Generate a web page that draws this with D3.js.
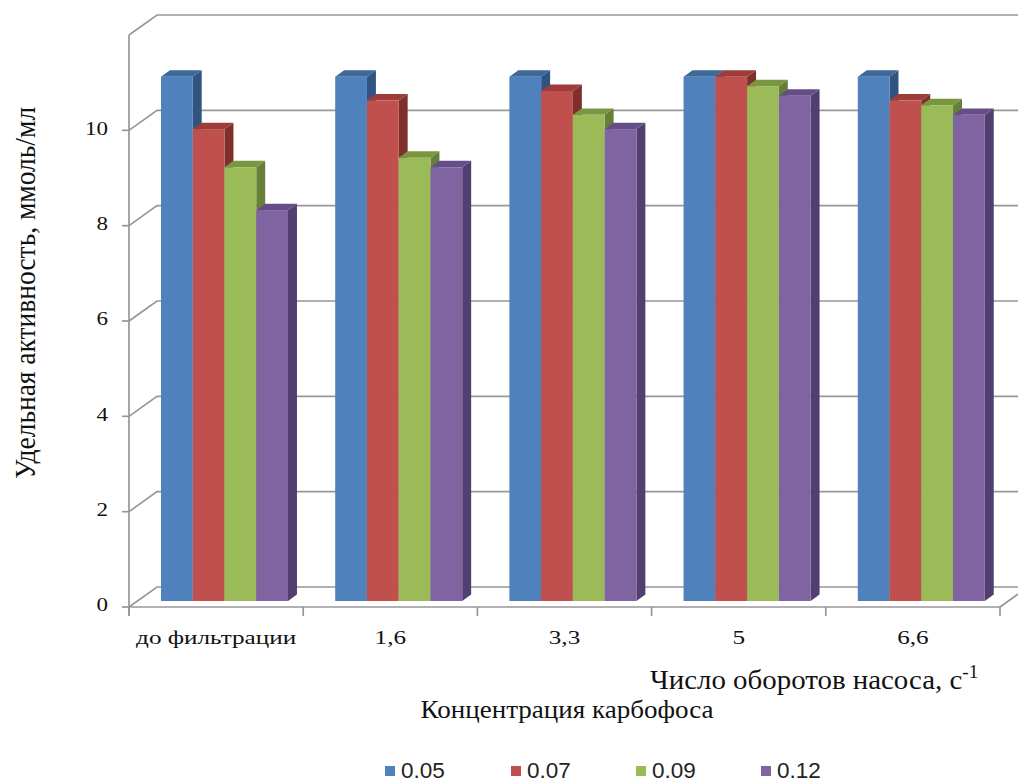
<!DOCTYPE html>
<html><head><meta charset="utf-8">
<script src="https://cdn.jsdelivr.net/npm/d3@7"></script>
<style>body{margin:0;background:#fff} svg{display:block}</style>
</head><body><svg id="chart" width="1018" height="782"></svg>
<script>
// Specific activity by pump speed, grouped by malathion (карбофос) concentration
const categories = ["до фильтрации", "1,6", "3,3", "5", "6,6"];
const seriesNames = ["0.05", "0.07", "0.09", "0.12"];
const s005 = [11.0, 11.0, 11.0, 11.0, 11.0];
const s007 = [9.9, 10.5, 10.7, 11.0, 10.5];
const s009 = [9.1, 9.3, 10.2, 10.8, 10.4];
const s012 = [8.2, 9.1, 9.9, 10.6, 10.2];
const seriesValues = [s005, s007, s009, s012];
const yTicks = [0, 2, 4, 6, 8, 10];

const frontColors = ["#4F81BD", "#C0504D", "#9BBB59", "#8064A2"];
const topColors   = ["#3D6899", "#9E3C39", "#7B9641", "#654E87"];
const sideColors  = ["#30547F", "#7F2F2C", "#66803A", "#523F6F"];

const svg = d3.select("#chart");
const serif = "'Liberation Serif', 'Times New Roman', serif";
const ink = "#111";

// Front plane of the 3D box and its depth vector
const xL = 129, xR = 1000;
const depth = { dx: 28, dy: -20 };
const y = d3.scaleLinear().domain([0, 12]).range([607, 35]);
const x = d3.scaleBand().domain(categories).range([xL, xR]).paddingInner(0).paddingOuter(0);
const xs = d3.scaleBand().domain(seriesNames).range([0, x.bandwidth()]).paddingInner(0).paddingOuter(0.743);

// point at value v, horizontal position px on the front plane, pushed back by fraction d
const P = (px, v, d) => [px + depth.dx * d, y(v) + depth.dy * d];
const poly = pts => "M" + pts.map(p => p.join(",")).join("L") + "Z";
const line = pts => "M" + pts.map(p => p.join(",")).join("L");

const gridColor = "#979797";
const walls = svg.append("g").attr("fill", "none").attr("stroke", gridColor).attr("stroke-width", 1.7);

// back-wall gridlines with their diagonal runs on the side wall
yTicks.concat([12]).forEach(v => {
  if (v === 0) return;
  walls.append("path").attr("d", line([P(xL, v, 0), P(xL, v, 1), [1018 + 40, y(v) + depth.dy]]));
});
// floor
walls.append("path").attr("d", line([P(xL, 0, 0), P(xL, 0, 1), [1018 + 40, y(0) + depth.dy]]));
walls.append("path").attr("d", line([P(xR, 0, 0), P(xR, 0, 1)]));

// bars: front face, top and right side
const dF = 0.30, dB = 0.62;
const bars = svg.append("g");
categories.forEach((c, ci) => {
  seriesNames.forEach((s, si) => {
    const v = seriesValues[si][ci];
    const x0 = x(c) + xs(s), x1 = x0 + xs.bandwidth();
    const g = bars.append("g");
    g.append("path").attr("fill", sideColors[si])
      .attr("d", poly([P(x1, 0, dF), P(x1, 0, dB), P(x1, v, dB), P(x1, v, dF)]));
    g.append("path").attr("fill", topColors[si])
      .attr("d", poly([P(x0, v, dF), P(x0, v, dB), P(x1, v, dB), P(x1, v, dF)]));
    const a = P(x0, v, dF), b = P(x1, 0, dF);
    g.append("rect").attr("fill", frontColors[si])
      .attr("x", a[0]).attr("y", a[1]).attr("width", b[0] - a[0]).attr("height", b[1] - a[1]);
  });
});

// front axes
const axes = svg.append("g").attr("fill", "none").attr("stroke", gridColor).attr("stroke-width", 1.7);
axes.append("path").attr("d", line([[xL, y(12)], [xL, y(0) + 8]]));
axes.append("path").attr("d", line([[xL, y(0)], [xR, y(0)]]));
yTicks.forEach(v => axes.append("path").attr("d", line([[xL - 7, y(v)], [xL, y(v)]])));
categories.concat([null]).forEach(c => {
  const px = c === null ? xR : x(c);
  axes.append("path").attr("d", line([[px, y(0)], [px, y(0) + 9]]));
});

// y tick labels (wide serif face)
svg.append("g").selectAll("text").data(yTicks).join("text")
  .attr("transform", d => `translate(108,${y(d) - 2}) scale(1.28,1)`).attr("dy", "0.35em")
  .attr("text-anchor", "end").attr("font-family", serif).attr("font-size", 18).attr("fill", ink)
  .text(d => d);

// category labels
svg.append("g").selectAll("text").data(categories).join("text")
  .attr("transform", d => `translate(${x(d) + x.bandwidth() / 2},644) scale(1.4,1)`)
  .attr("text-anchor", "middle").attr("font-family", serif).attr("font-size", 18).attr("fill", ink)
  .text(d => d);

// axis titles
svg.append("text").attr("transform", "translate(35,293) scale(1.05,1) rotate(-90)")
  .attr("text-anchor", "middle").attr("font-family", serif).attr("font-size", 27.5).attr("fill", ink)
  .text("Удельная активность, ммоль/мл");

const xt = svg.append("text").attr("transform", "translate(650,689) scale(1.07,1)")
  .attr("font-family", serif).attr("font-size", 27).attr("fill", ink);
xt.append("tspan").text("Число оборотов насоса,  с");
xt.append("tspan").attr("dy", -11).attr("font-size", 18).text("-1");

svg.append("text").attr("transform", "translate(567,718) scale(1.04,1)").attr("text-anchor", "middle")
  .attr("font-family", serif).attr("font-size", 26).attr("fill", ink)
  .text("Концентрация карбофоса");

// legend
const legX = [385, 511, 636, 761];
const leg = svg.append("g").selectAll("g").data(seriesNames).join("g")
  .attr("transform", (d, i) => `translate(${legX[i]},766)`);
leg.append("rect").attr("width", 10).attr("height", 10).attr("fill", (d, i) => frontColors[i]);
leg.append("text").attr("x", 16).attr("y", 11.5)
  .attr("font-family", "'Liberation Sans', Arial, sans-serif").attr("font-size", 22.5).attr("fill", "#222")
  .text(d => d);
</script></body></html>
